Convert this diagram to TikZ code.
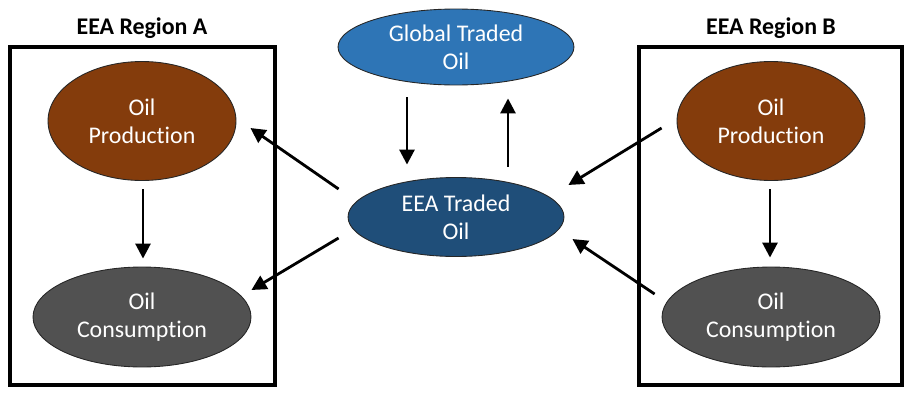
\documentclass[tikz,border=0pt]{standalone}
\usepackage{fontspec}
\setmainfont{Carlito}[Ligatures=NoCommon]
\usetikzlibrary{shapes.geometric, arrows.meta}
\definecolor{oilbrown}{HTML}{843C0C}
\definecolor{globblue}{HTML}{2E75B6}
\definecolor{eeablue}{HTML}{1F4E79}
\definecolor{consgray}{HTML}{515151}

\begin{document}
\begin{tikzpicture}[x=0.02cm, y=-0.02cm,
    oval/.style={ellipse, draw=black!85, line width=0.5pt, inner sep=0pt,
      text=white, align=center, font=\fontsize{13.6}{15.9}\selectfont},
    prodoval/.style={oval, fill=oilbrown, minimum width=3.76cm, minimum height=2.38cm},
    consoval/.style={oval, fill=consgray, minimum width=4.36cm, minimum height=2cm},
    region/.style={draw=black, line width=1.8pt},
    regtitle/.style={font=\bfseries\fontsize{13.6}{15.9}\selectfont},
    flow/.style={-{Triangle[length=0.3cm, width=0.3cm]}, line width=1.6pt}]
  \useasboundingbox (0,0) rectangle (913,396);
  % Region A
  \draw[region] (10,47) rectangle (275,385);
  \node[regtitle] (titleA) at (142,28) {EEA Region A};
  \node[prodoval] (prodA) at (142,121) {Oil\\Production};
  \node[consoval] (consA) at (142,317) {Oil\\Consumption};
  % Region B
  \draw[region] (639,47) rectangle (902,385);
  \node[regtitle] (titleB) at (771,28) {EEA Region B};
  \node[prodoval] (prodB) at (771,121) {Oil\\Production};
  \node[consoval] (consB) at (771,317) {Oil\\Consumption};
  % Traded oil
  \node[oval, fill=globblue, minimum width=4.72cm, minimum height=1.52cm] (glob) at (456,47) {Global Traded\\Oil};
  \node[oval, fill=eeablue, minimum width=4.32cm, minimum height=1.58cm] (eea) at (456,217) {EEA Traded\\Oil};
  % Flows inside regions
  \draw[flow] ([shift={(1,8.5)}]prodA.south) -- ([shift={(1,-8)}]consA.north);
  \draw[flow] ([shift={(-1,8.5)}]prodB.south) -- ([shift={(-1,-9)}]consB.north);
  % Global <-> EEA
  \draw[flow] ([shift={(-49,12)}]glob.south) -- ([shift={(-49,-12.5)}]eea.north);
  \draw[flow] ([shift={(52,-10.5)}]eea.north) -- ([shift={(52,13)}]glob.south);
  % EEA -> Region A
  \draw[flow] ([shift={(-9,-28)}]eea.west) -- ([shift={(14,7)}]prodA.east);
  \draw[flow] ([shift={(-9,21)}]eea.west) -- ([shift={(0,-27)}]consA.east);
  % Region B -> EEA
  \draw[flow] ([shift={(-15,7)}]prodB.west) -- ([shift={(4,-32)}]eea.east);
  \draw[flow] ([shift={(-7,-23)}]consB.west) -- ([shift={(8,22)}]eea.east);
\end{tikzpicture}
\end{document}
